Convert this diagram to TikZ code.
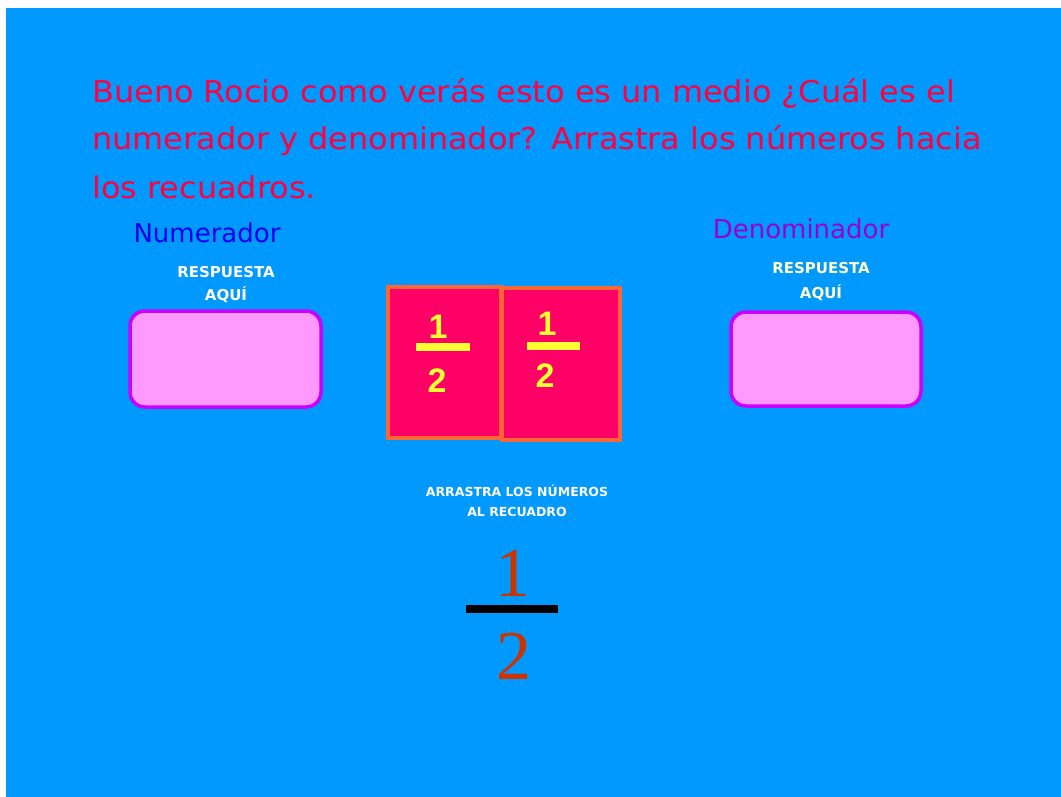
\documentclass[tikz,border=0pt]{standalone}
\usepackage{fontspec}
\setmainfont{Liberation Sans}
\newfontfamily\serifnum{Liberation Serif}
\newfontfamily\comic{DejaVu Sans}
\newfontfamily\comicwide[FakeStretch=1.065]{DejaVu Sans}
\definecolor{bgblue}{HTML}{0099FF}
\definecolor{titlered}{HTML}{FF0040}
\definecolor{numblue}{HTML}{0000EE}
\definecolor{denpurple}{HTML}{9900CC}
\definecolor{boxpink}{HTML}{FF99FF}
\definecolor{boxedge}{HTML}{CC00FF}
\definecolor{cardred}{HTML}{FF0066}
\definecolor{cardedge}{HTML}{FF6633}
\definecolor{digyellow}{HTML}{FFFF33}
\definecolor{cream}{HTML}{FFFFCC}
\definecolor{bigred}{HTML}{CC3300}
\tikzset{
  titleline/.style={anchor=base west, inner sep=0pt, text=titlered, font=\comicwide\fontsize{30}{30}\selectfont},
  label/.style={anchor=base, inner sep=0pt, font=\comic\fontsize{26}{26}\selectfont},
  hint/.style={anchor=base, inner sep=0pt, font=\comic\bfseries\fontsize{15}{15}\selectfont},
  smallhint/.style={anchor=base, inner sep=0pt, font=\comic\bfseries\fontsize{12.5}{12.5}\selectfont, text=white},
  answerbox/.style={draw=boxedge, fill=boxpink, line width=3.5pt, rounded corners=15pt},
  card/.style={draw=cardedge, fill=cardred, line width=3.5pt},
  carddigit/.style={anchor=base, inner sep=0pt, text=digyellow, font=\bfseries\fontsize{34}{34}\selectfont},
  cardbar/.style={fill=digyellow, draw=none},
  bigdigit/.style={anchor=base, inner sep=0pt, text=bigred, font=\serifnum\fontsize{70}{70}\selectfont},
}
\begin{document}
\begin{tikzpicture}[x=1pt,y=-1pt]
\useasboundingbox (0,0) rectangle (1061,797);
\fill[white] (0,0) rectangle (1061,797);
\fill[bgblue] (6,8) rectangle (1061,797);
% title
\node[titleline] (t1) at (92,103) {Bueno Rocio como verás esto es un medio ¿Cuál es el};
\node[titleline] (t2) at (92,150) {numerador y denominador? Arrastra los números hacia};
\node[titleline] (t3) at (92,198) {los recuadros.};
% labels
\node[label, text=numblue] (numlbl) at (207,242) {Numerador};
\node[label, text=denpurple] (denlbl) at (801,238) {Denominador};
\node[hint, text=white] (r1a) at (226,277) {RESPUESTA};
\node[hint, text=white] (r1b) at (226,300) {AQUÍ};
\node[hint, text=cream] (r2a) at (821,273) {RESPUESTA};
\node[hint, text=cream] (r2b) at (821,298) {AQUÍ};
% answer boxes
\draw[answerbox] (130,311) rectangle (321,407);
\draw[answerbox] (731,312) rectangle (921,406);
% cards
\draw[card] (388,287) rectangle (501,438);
\draw[card] (502,288) rectangle (620,440);
\node[carddigit] (c1n) at (438,338) {1};
\fill[cardbar] (416,343) rectangle (470,351);
\node[carddigit] (c1d) at (437,392) {2};
\node[carddigit] (c2n) at (547,335) {1};
\fill[cardbar] (527,342) rectangle (580,350);
\node[carddigit] (c2d) at (545,387) {2};
% hint
\node[smallhint] (h1) at (517,496) {ARRASTRA LOS NÚMEROS};
\node[smallhint] (h2) at (517,516) {AL RECUADRO};
% big fraction
\node[bigdigit] (bn) at (513,596) {1};
\fill[black] (466,605) rectangle (558,613);
\node[bigdigit] (bd) at (514,679) {2};
\end{tikzpicture}
\end{document}
